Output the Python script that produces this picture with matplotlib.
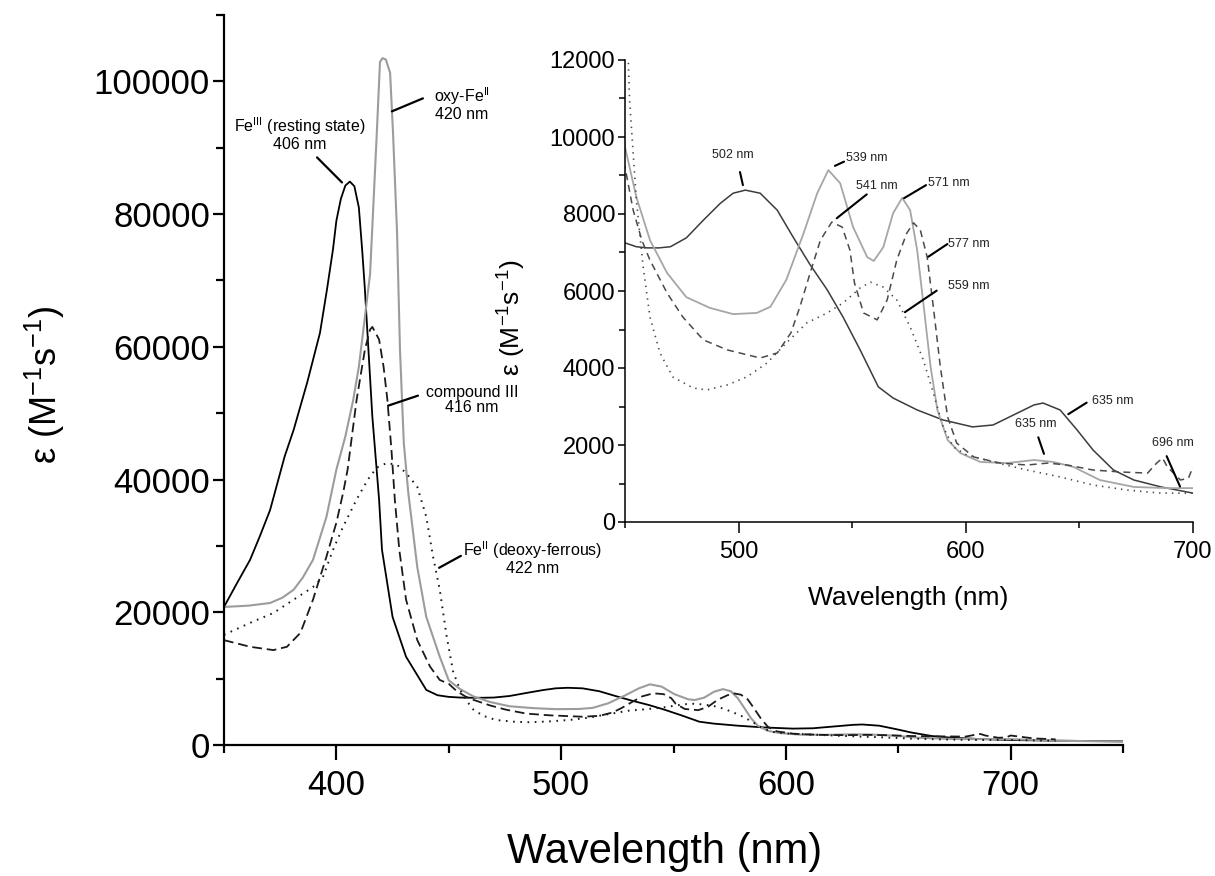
import matplotlib
matplotlib.use("Agg")
import matplotlib.pyplot as plt
from matplotlib.ticker import MultipleLocator

plt.rcParams['font.family'] = ['Liberation Sans', 'DejaVu Sans']
plt.rcParams['mathtext.default'] = 'regular'
plt.rcParams['lines.scale_dashes'] = False

# ---------------- data ----------------
# Fe(III) resting state, black solid
wl_fe3 = [350, 355.8, 361.6, 366, 370.5, 377, 381, 387, 392.7, 395.8, 398.5, 400, 402, 404, 406, 408,
          410, 411.5, 412.7, 416, 419, 420.3, 425, 431, 440, 445, 450, 455, 459.7, 465, 470, 477,
          484.5, 492, 497.6, 503, 509.5, 517, 524, 531.5, 539, 546, 553.5, 561.5, 568, 578.6, 590,
          603, 612, 621, 630, 634, 641.5, 649, 656, 665, 674, 686, 700, 720, 750]
eps_fe3 = [20800, 24400, 27900, 31500, 35400, 43500, 47500, 54600, 62100, 68600, 74700, 79000, 82300,
           84300, 84900, 84200, 81000, 74500, 68600, 49500, 37000, 29400, 19300, 13300, 8300, 7500,
           7250, 7150, 7120, 7120, 7150, 7380, 7840, 8280, 8540, 8620, 8540, 8100, 7400, 6680, 6030,
           5320, 4470, 3510, 3220, 2910, 2650, 2470, 2520, 2780, 3040, 3090, 2910, 2390, 1870, 1350,
           1090, 910, 750, 650, 550]

# oxy-Fe(II), grey solid
wl_oxy = [350, 361, 370.5, 376, 381, 385, 389.6, 395.6, 400, 404, 407.5, 410, 412.7, 415, 418, 419.4,
          420.5, 422, 423.9, 425.2, 427, 428.3, 430, 432, 436, 440, 446, 450, 455, 461, 468.5, 477,
          487.4, 497.6, 508, 514, 521, 528.6, 534.6, 539.5, 544.7, 550.4, 556.6, 559.5, 563.7, 568,
          572, 575.5, 578.6, 581.5, 584.5, 587.5, 592, 597.6, 606.4, 618, 630, 638.5, 647.4, 659, 674,
          688.7, 700, 720, 750]
eps_oxy = [20800, 21000, 21400, 22200, 23400, 25200, 27900, 34400, 41500, 46500, 52000, 57000, 64500,
           71000, 92300, 102900, 103500, 103300, 101300, 92300, 77200, 59600, 45500, 38000, 26800,
           19300, 13300, 9740, 8440, 7320, 6470, 5840, 5560, 5400, 5430, 5590, 6290, 7500, 8540, 9140,
           8800, 7660, 6880, 6780, 7140, 8020, 8420, 8100, 7060, 5590, 4030, 2910, 2130, 1790, 1560,
           1530, 1610, 1560, 1430, 1090, 910, 880, 880, 650, 500]

# compound III, dashed
wl_c3 = [350, 361.6, 372, 378, 384, 389.6, 395.6, 400, 403, 405, 409, 412.7, 415, 416, 419, 421, 422.7,
         424.5, 426, 428, 431, 436, 441.7, 446, 450, 453.6, 457.4, 461, 468.5, 475.5, 484.5, 495, 509.5,
         517, 523, 527, 531.5, 536, 541, 545.6, 549, 551, 555, 561, 565.4, 569.6, 574, 577, 580, 583,
         585.7, 588.8, 592, 596, 603.5, 615, 627, 636, 644.7, 656, 668, 680, 684, 686.6, 688.7, 694.5,
         698, 700, 710, 720]
eps_c3 = [15800, 14800, 14300, 14800, 16900, 21900, 28400, 33500, 38000, 41500, 52000, 59600, 62600,
          63000, 61100, 57000, 52000, 44500, 37000, 29400, 21900, 15800, 11800, 9800, 9220, 8100, 7320,
          6800, 5950, 5320, 4730, 4470, 4260, 4390, 4910, 5590, 6470, 7320, 7790, 7660, 7060, 6210,
          5430, 5250, 5770, 6800, 7500, 7770, 7580, 6880, 5590, 4030, 2730, 2050, 1690, 1530, 1480,
          1530, 1480, 1350, 1300, 1270, 1530, 1660, 1430, 1090, 1140, 1430, 1000, 850]

# Fe(II) deoxy-ferrous, dotted
wl_fe2 = [350, 361.6, 372, 381, 389.6, 394, 398.5, 403, 409, 414, 418, 422.5, 427, 431, 436, 440, 443,
          446, 449, 452, 453, 455, 458, 461, 465.4, 471, 480, 486, 495, 503.7, 512.5, 521, 530, 539,
          546, 553.5, 558, 563.7, 569.6, 575.5, 581.3, 585.7, 590, 594.5, 600.4, 612, 627, 641.5, 656,
          671, 685.7, 700, 720]
eps_fe2 = [16600, 18400, 19900, 21900, 23800, 25300, 29400, 32900, 37000, 40000, 41800, 42500, 42200,
           41000, 38900, 34400, 28400, 23400, 16500, 10960, 10100, 8360, 6620, 5320, 4390, 3770, 3480,
           3430, 3560, 3770, 4130, 4650, 5170, 5430, 5690, 6080, 6230, 6100, 5770, 5070, 4210, 3350,
           2470, 1950, 1740, 1560, 1350, 1170, 960, 830, 750, 750, 650]

x_ticks_main = [400, 500, 600, 700]
y_ticks_main = [0, 20000, 40000, 60000, 80000, 100000]
x_ticks_inset = [500, 600, 700]
y_ticks_inset = [0, 2000, 4000, 6000, 8000, 10000, 12000]

# main-panel labels: text, text position, leader start, leader end
main_labels = [
    ("Fe$^{III}$ (resting state)\n406 nm", (383.8, 92150), (391.4, 88540), (402.5, 84770)),
    ("oxy-Fe$^{II}$\n420 nm", (455.9, 96600), (438.5, 97440), (424.7, 95480)),
    ("compound III\n416 nm", (460.3, 52040), (436.3, 52640), (423.0, 51130)),
    ("Fe$^{II}$ (deoxy-ferrous)\n422 nm", (487.5, 28200), (455.4, 28500), (445.7, 26700)),
]
# inset labels: text, text position, horizontal alignment, leader start, leader end
inset_labels = [
    ("502 nm", (497.5, 9530), 'center', (500.6, 9090), (501.9, 8750)),
    ("539 nm", (547.4, 9450), 'left', (546.4, 9360), (542.4, 9250)),
    ("541 nm", (560.9, 8730), 'center', (556.4, 8510), (543.2, 7890)),
    ("571 nm", (583.4, 8800), 'left', (582.5, 8750), (572.8, 8410)),
    ("577 nm", (592.2, 7220), 'left', (591.9, 7220), (583.5, 6890)),
    ("559 nm", (592.2, 6130), 'left', (587.2, 6010), (573.2, 5450)),
    ("635 nm", (655.5, 3140), 'left', (653.2, 3100), (645.1, 2800)),
    ("635 nm", (630.9, 2550), 'center', (631.9, 2200), (634.4, 1770)),
    ("696 nm", (691.2, 2050), 'center', (688.4, 1710), (694.3, 920)),
]

W, H = 1215, 876
fig = plt.figure(figsize=(W / 100, H / 100), dpi=100)


def frac(l, t, r, b):
    return [l / W, 1 - b / H, (r - l) / W, (b - t) / H]


# ---------------- main panel ----------------
ax = fig.add_axes(frac(224, 15, 1123, 745))
ax.plot(wl_fe3, eps_fe3, color='black', lw=1.3)
ax.plot(wl_oxy, eps_oxy, color='#9c9c9c', lw=1.5)
ax.plot(wl_c3, eps_c3, color='#1a1a1a', lw=1.3, dashes=(7, 3.5))
ax.plot(wl_fe2, eps_fe2, color='#1a1a1a', lw=1.4, dashes=(1.2, 4.0))
ax.set_xlim(350, 750)
ax.set_ylim(0, 110000)
ax.set_xticks(x_ticks_main)
ax.set_yticks(y_ticks_main)
ax.xaxis.set_minor_locator(MultipleLocator(50))
ax.yaxis.set_minor_locator(MultipleLocator(10000))
for s in ('top', 'right'):
    ax.spines[s].set_visible(False)
for s in ('left', 'bottom'):
    ax.spines[s].set_linewidth(1.6)
ax.tick_params(axis='x', which='major', direction='out', length=11, width=1.6, labelsize=25, pad=6)
ax.tick_params(axis='x', which='minor', direction='out', length=5.5, width=1.6)
ax.tick_params(axis='y', which='major', direction='out', length=8, width=1.6, labelsize=25, pad=2)
ax.tick_params(axis='y', which='minor', direction='out', length=5.5, width=1.6)

for txt, tpos, p0, p1 in main_labels:
    ax.text(tpos[0], tpos[1], txt, ha='center', va='center', fontsize=11.5,
            linespacing=1.0)
    ax.annotate('', xy=p1, xytext=p0,
                arrowprops=dict(arrowstyle='-', color='black', lw=1.6,
                                shrinkA=0, shrinkB=0))

fig.text(665 / W, 1 - 852 / H, 'Wavelength (nm)', ha='center', va='center', fontsize=30)
fig.text(45 / W, 1 - 385 / H, 'ε (M$^{-1}$s$^{-1}$)', ha='center', va='center',
         rotation=90, fontsize=26)

# ---------------- inset ----------------
ai = fig.add_axes(frac(625, 60, 1193, 522))
ai.patch.set_alpha(0)
ai.plot(wl_fe3, eps_fe3, color='#3c3c3c', lw=1.1)
ai.plot(wl_oxy, eps_oxy, color='#a6a6a6', lw=1.3)
ai.plot(wl_c3, eps_c3, color='#4a4a4a', lw=1.1, dashes=(5, 3.5))
ai.plot(wl_fe2, eps_fe2, color='#4a4a4a', lw=1.2, dashes=(1.0, 3.6))
ai.set_xlim(450, 700)
ai.set_ylim(0, 12000)
ai.set_xticks(x_ticks_inset)
ai.set_yticks(y_ticks_inset)
ai.xaxis.set_minor_locator(MultipleLocator(50))
ai.yaxis.set_minor_locator(MultipleLocator(1000))
for s in ('top', 'right'):
    ai.spines[s].set_visible(False)
for s in ('left', 'bottom'):
    ai.spines[s].set_linewidth(1.1)
ai.tick_params(axis='x', which='major', direction='out', length=8, width=1.1, labelsize=17, pad=6)
ai.tick_params(axis='x', which='minor', direction='out', length=4, width=1.1)
ai.tick_params(axis='y', which='major', direction='out', length=5, width=1.1, labelsize=17, pad=2)
ai.tick_params(axis='y', which='minor', direction='out', length=4, width=1.1)

for txt, tpos, ha, p0, p1 in inset_labels:
    ai.text(tpos[0], tpos[1], txt, ha=ha, va='center', fontsize=9, color='#222222')
    ai.annotate('', xy=p1, xytext=p0,
                arrowprops=dict(arrowstyle='-', color='black', lw=1.5,
                                shrinkA=0, shrinkB=0))

fig.text(908 / W, 1 - 598 / H, 'Wavelength (nm)', ha='center', va='center', fontsize=19)
fig.text(512 / W, 1 - 318 / H, 'ε (M$^{-1}$s$^{-1}$)', ha='center', va='center',
         rotation=90, fontsize=19)

fig.savefig('out.png', dpi=100)
